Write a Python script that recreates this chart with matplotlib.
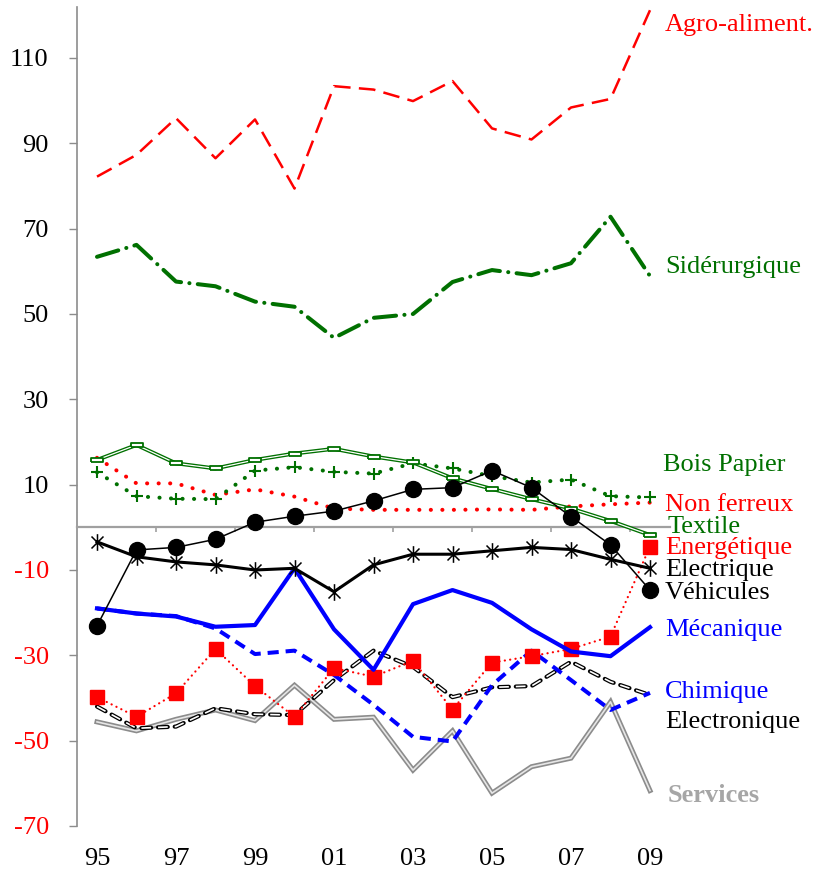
import matplotlib
matplotlib.use("Agg")
import matplotlib.pyplot as plt
from matplotlib.path import Path
from matplotlib.transforms import blended_transform_factory

plt.rcParams['font.family'] = ['Liberation Serif', 'DejaVu Serif']
plt.rcParams['lines.scale_dashes'] = False

years = ['95', '96', '97', '98', '99', '00', '01', '02', '03', '04', '05', '06', '07', '08', '09']
tick_labels = ['95', '97', '99', '01', '03', '05', '07', '09']
yticks = [-70, -50, -30, -10, 10, 30, 50, 70, 90, 110]

agro = [82.2, 87.3, 95.9, 86.5, 95.6, 79.4, 103.4, 102.6, 99.9, 104.6, 93.5, 90.9, 98.4, 100.4, 121.2]
siderurgique = [63.4, 66.2, 57.6, 56.5, 52.9, 51.7, 44.4, 49.1, 50.0, 57.5, 60.3, 59.1, 61.9, 72.8, 58.9]
bois_papier = [12.9, 7.3, 6.7, 6.6, 13.3, 14.1, 13.0, 12.6, 15.0, 13.8, 12.0, 10.5, 11.2, 7.3, 7.0]
non_ferreux = [16.3, 10.3, 10.3, 7.6, 8.9, 7.2, 4.4, 4.1, 4.1, 4.1, 4.2, 4.1, 4.9, 5.4, 5.8]
textile = [15.8, 19.3, 15.0, 13.8, 15.8, 17.3, 18.4, 16.6, 15.2, 11.5, 9.0, 6.6, 4.4, 1.5, -1.8]
energetique = [-39.8, -44.4, -38.9, -28.5, -37.2, -44.4, -33.0, -35.0, -31.3, -42.7, -31.7, -30.2, -28.5, -25.6, -4.5]
electrique = [-3.4, -6.9, -8.1, -8.8, -10.0, -9.6, -15.1, -8.8, -6.3, -6.3, -5.5, -4.7, -5.2, -7.5, -9.6]
vehicules = [-23.1, -5.3, -4.7, -2.8, 1.2, 2.6, 3.8, 6.2, 8.9, 9.3, 13.3, 9.3, 2.5, -4.1, -14.7]
mecanique = [-19.0, -20.2, -20.9, -23.3, -22.9, -9.6, -23.9, -33.4, -18.0, -14.7, -17.7, -23.9, -29.1, -30.2, -23.4]
chimique = [-19.0, -20.2, -20.8, -23.7, -29.7, -28.9, -34.6, -41.6, -49.1, -50.2, -37.0, -28.9, -35.8, -42.8, -38.8]
electronique = [-42.0, -47.1, -46.7, -42.4, -43.8, -44.0, -35.8, -28.9, -32.7, -39.8, -37.5, -37.2, -31.5, -36.2, -39.3]
services = [-45.6, -47.7, -45.0, -42.8, -45.3, -37.0, -45.0, -44.5, -56.9, -47.7, -62.3, -56.1, -54.1, -40.9, -61.7]

RED = '#FF0000'
GREEN = '#007000'
BLUE = '#0000FF'
GREY = '#A6A6A6'

W, H = 819, 873
fig = plt.figure(figsize=(W / 100, H / 100), dpi=100)
ax = fig.add_axes([77.25 / W, 47 / H, 592.5 / W, 819.2 / H])
x = list(range(len(years)))

# Services: grey double line
ax.plot(x, services, color='#8C8C8C', lw=3.6, solid_joinstyle='miter', zorder=2)
ax.plot(x, services, color='#E6E6E6', lw=1.2, zorder=2.1)

# Electronique: hollow black dashes
ax.plot(x, electronique, color='black', lw=3.0, dashes=(7, 5), dash_capstyle='round', zorder=3)
ax.plot(x, electronique, color='white', lw=1.2, dashes=(7, 5), zorder=3.1)

# Chimique
ax.plot(x, chimique, color=BLUE, lw=2.9, dashes=(8, 5), zorder=3.2)

# Energétique
ax.plot(x, energetique, color=RED, lw=1.6, dashes=(0.1, 3.8), dash_capstyle='round',
        marker='s', markersize=10, mfc=RED, mec=RED, zorder=4)

# Mécanique
ax.plot(x, mecanique, color=BLUE, lw=3.0, zorder=4.1)

# Electrique
star = Path([(0, -1), (0, 1), (-0.72, -0.72), (0.72, 0.72), (-0.72, 0.72), (0.72, -0.72)],
            [Path.MOVETO, Path.LINETO, Path.MOVETO, Path.LINETO, Path.MOVETO, Path.LINETO])
ax.plot(x, electrique, color='black', lw=2.2, marker=star, markersize=12,
        mec='black', mfc='none', mew=1.1, zorder=5)

# Non ferreux
ax.plot(x, non_ferreux, color=RED, lw=2.9, dashes=(0.1, 8.2), dash_capstyle='round', zorder=5.1)

# Bois Papier
ax.plot(x, bois_papier, color=GREEN, lw=2.9, dashes=(0.1, 8.2), dash_capstyle='round',
        marker='+', markersize=9, mec=GREEN, mew=1.5, zorder=5.2)

# Textile: green double line with hollow rectangle markers
rect = Path([(-1, -0.33), (1, -0.33), (1, 0.33), (-1, 0.33), (-1, -0.33)])
ax.plot(x, textile, color=GREEN, lw=2.8, zorder=5.3)
ax.plot(x, textile, color='white', lw=0.9, marker=rect, markersize=9, mfc='white',
        mec=GREEN, mew=1.3, zorder=5.4)

# Véhicules
ax.plot(x, vehicules, color='black', lw=1.1, marker='o', markersize=11.5, mfc='black',
        mec='black', zorder=6)

# Sidérurgique
ax.plot(x, siderurgique, color=GREEN, lw=2.9, dashes=(16, 6, 0.1, 6), dash_capstyle='round', zorder=6.1)

# Agro-aliment.
ax.plot(x, agro, color=RED, lw=1.8, dashes=(12, 6), zorder=6.2)

ax.set_xlim(-0.5, len(years) - 0.5)
ax.set_ylim(-70, 122)

for s in ['top', 'right']:
    ax.spines[s].set_visible(False)
ax.spines['left'].set_color('#8C8C8C')
ax.spines['left'].set_linewidth(1.2)
ax.spines['bottom'].set_position(('data', 0))
ax.spines['bottom'].set_color('#A0A0A0')
ax.spines['bottom'].set_linewidth(1.6)

ax.set_yticks(yticks)
ax.set_yticklabels([str(v) for v in yticks])
for lab, v in zip(ax.get_yticklabels(), yticks):
    lab.set_color(RED if v < 0 else 'black')
ax.tick_params(axis='y', direction='out', length=5.5, width=1.0, color='#8C8C8C',
               pad=15, labelsize=19)

ax.set_xticks([i + 0.5 for i in range(1, len(years) - 1, 2)])
ax.set_xticklabels([])
ax.tick_params(axis='x', direction='out', length=3.8, width=1.2, color='#A0A0A0')

trans = blended_transform_factory(ax.transData, ax.transAxes)
for i, lab in zip(range(0, len(years), 2), tick_labels):
    ax.text(i, -0.0405, lab, transform=trans, ha='center', va='center', fontsize=19, color='black')

labels = [
    ('Agro-aliment.', 665, 25, RED, 'normal'),
    ('Sidérurgique', 665, 267, GREEN, 'normal'),
    ('Bois Papier', 663, 465, GREEN, 'normal'),
    ('Non ferreux', 665, 505, RED, 'normal'),
    ('Textile', 668, 527, GREEN, 'normal'),
    ('Energétique', 665, 548, RED, 'normal'),
    ('Electrique', 665, 570, 'black', 'normal'),
    ('Véhicules', 665, 593, 'black', 'normal'),
    ('Mécanique', 665, 630, BLUE, 'normal'),
    ('Chimique', 665, 692, BLUE, 'normal'),
    ('Electronique', 665, 722, 'black', 'normal'),
    ('Services', 668, 795, GREY, 'bold'),
]
for txt, px, py, col, wt in labels:
    fig.text(px / W, 1 - py / H, txt, ha='left', va='center', fontsize=19, color=col,
             fontweight=wt)

fig.savefig('out.png', dpi=100)
